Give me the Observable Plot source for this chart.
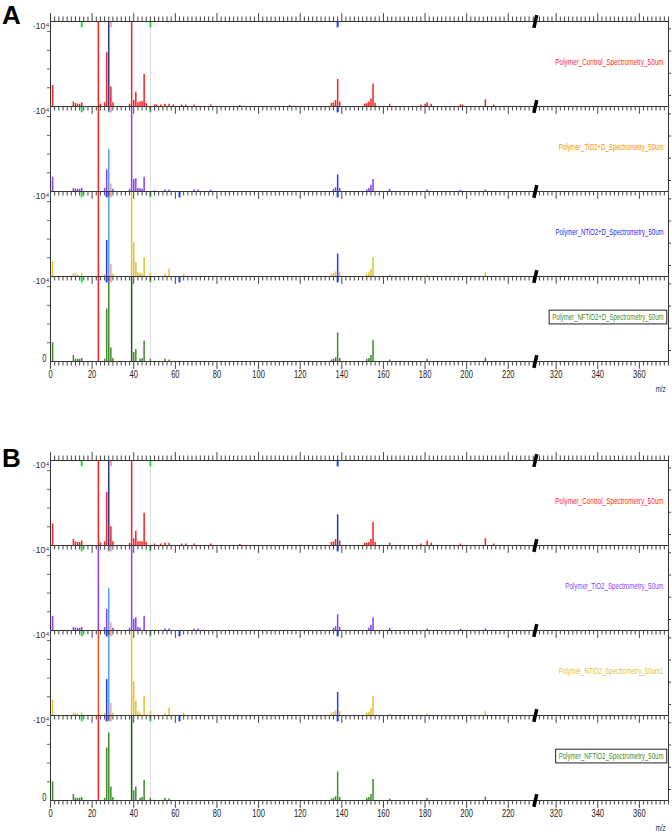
<!DOCTYPE html>
<html><head><meta charset="utf-8">
<script src="https://cdn.jsdelivr.net/npm/d3@7"></script>
<script src="https://cdn.jsdelivr.net/npm/@observablehq/plot@0.6"></script>
<style>
body{margin:0;background:#fff;}
#wrap{position:relative;width:672px;height:834px;overflow:hidden;background:#fff;}
.letter{position:absolute;font-family:"Liberation Sans",Arial,sans-serif;font-weight:bold;font-size:26px;line-height:1;color:#000;}
#figA{position:absolute;left:0;top:0;}
#figB{position:absolute;left:0;top:400px;}
</style></head><body>
<div id="wrap">
  <div id="figA"></div>
  <div id="figB"></div>
  <div class="letter" style="left:2px;top:2px">A</div>
  <div class="letter" style="left:2px;top:445px">B</div>
</div>
<script>
// ---------- axis definitions ----------
const breakLo = 233;          // last m/z of the left segment
const breakGap = 77;          // m/z hidden by the axis break
const xMaxPos = 297;          // right end of the axis (transformed units)
const yTop = 1.135;           // panel top, ×10^4 counts
const majorTicks = [0,20,40,60,80,100,120,140,160,180,200,220,320,340,360];
const leftYTicks = [0.25,0.5,0.75,1];
const rightYTicks = [0.147,0.444,0.741,1.037];
const refLines = [48];

// ---------- series ----------
const seriesA = ["Polymer_Control_Spectrometry_50um","Polymer_TiO2+D_Spectrometry_50um","Polymer_NTiO2+D_Spectrometry_50um","Polymer_NFTiO2+D_Spectrometry_50um"];
const seriesB = ["Polymer_Control_Spectrometry_50um","Polymer_TiO2_Spectrometry_50um","Polymer_NTiO2_Spectrometry_50um1","Polymer_NFTiO2_Spectrometry_50um"];
const lineColors = ["#ff1f1f","#8b3cff","#e6bf2e","#3f8a2c"];
const labelColorsA = ["#ff1f1f","#ff8c00","#2424ff","#3f8a2c"];
const labelColorsB = ["#ff1f1f","#8b3cff","#e6bf2e","#3f8a2c"];
const palette = {rd:"#ff2020", or:"#ff4a1a", nv:"#1f3a9c", lb:"#4aa3ff", bl:"#2638ff", pk:"#ff9c9c", g:"#1ee04a", dg:"#1d5c12"};

// ---------- spectra: [m/z, intensity ×10^4, optional colour key] ----------
const specA1 = [[1,0.28],[11,0.06],[12,0.04],[13,0.03],[14,0.03],[15,0.05],[23,2,"rd"],[24,0.03],[26,0.05],[27,0.72],[28,2,"nv"],[29,0.26],[30,0.05],[38,0.03],[39,2],[40,0.08],[41,0.19],[42,0.05],[43,0.06],[44,0.07],[45,0.43],[46,0.04],[50,0.02],[51,0.02],[53,0.02],[55,0.03],[57,0.03],[59,0.02],[63,0.02],[65,0.02],[69,0.02],[77,0.02],[91,0.015],[115,0.015],[135,0.04],[136,0.05],[137,0.08],[138,0.36],[139,0.06],[151,0.03],[152,0.04],[153,0.06],[154,0.1],[155,0.3],[156,0.04],[163,0.03],[178,0.02],[180,0.03],[181,0.05],[183,0.03],[197,0.02],[198,0.02],[209,0.09],[213,0.02]];
const specA2 = [[1,0.19],[11,0.04],[12,0.03],[13,0.03],[14,0.03],[15,0.04],[23,2,"rd"],[26,0.04],[27,0.29],[28,0.56,"lb"],[29,0.1,"pk"],[30,0.03],[38,0.03],[39,2],[40,0.16],[41,0.17],[42,0.04],[43,0.04],[44,0.03],[45,0.19],[50,0.01],[55,0.02],[57,0.02],[69,0.02],[71,0.02],[77,0.015],[136,0.03],[137,0.05],[138,0.22,"bl"],[139,0.04],[152,0.02],[153,0.04],[154,0.08],[155,0.16],[163,0.03],[181,0.02],[197,0.015],[209,0.02]];
const specA3 = [[1,0.2],[11,0.04],[12,0.03],[13,0.02],[15,0.04],[23,2,"rd"],[26,0.03],[27,0.48,"bl"],[28,2,"lb"],[29,0.16,"pk"],[30,0.03],[39,2],[40,0.45],[41,0.19],[42,0.05],[43,0.04],[44,0.03],[45,0.25],[48,0.04],[55,0.03],[57,0.1],[64,0.03],[135,0.03],[136,0.04],[137,0.06],[138,0.3,"bl"],[139,0.05],[152,0.03],[153,0.05],[154,0.09],[155,0.25],[163,0.02],[181,0.02],[209,0.05]];
const specA4 = [[1,0.25],[11,0.08],[12,0.03],[13,0.03],[14,0.03],[15,0.04],[23,2,"rd"],[26,0.03],[27,0.7],[28,2],[29,0.18],[30,0.04],[39,2,"dg"],[40,0.12],[41,0.16],[43,0.03],[44,0.04],[45,0.27],[48,0.03],[55,0.03],[57,0.02],[135,0.02],[136,0.03],[137,0.05],[138,0.38],[139,0.04],[152,0.03],[153,0.04],[154,0.08],[155,0.28],[163,0.02],[181,0.03],[209,0.045]];
const specB1 = [[1,0.29],[11,0.08],[12,0.05],[13,0.04],[14,0.04],[15,0.06],[23,2,"rd"],[24,0.03],[26,0.05],[27,0.71],[28,2,"nv"],[29,0.25],[30,0.05],[38,0.03],[39,2],[40,0.09],[41,0.19],[42,0.05],[43,0.05],[44,0.05],[45,0.43],[46,0.04],[50,0.02],[53,0.02],[55,0.03],[57,0.03],[63,0.02],[65,0.02],[69,0.02],[77,0.02],[91,0.015],[135,0.04],[136,0.05],[137,0.08],[138,0.41,"nv"],[139,0.06],[151,0.03],[152,0.03],[153,0.04],[154,0.08],[155,0.31],[156,0.04],[163,0.03],[178,0.02],[181,0.06],[183,0.03],[197,0.02],[209,0.09],[213,0.02]];
const specB2 = [[1,0.19],[11,0.04],[12,0.03],[13,0.03],[14,0.03],[15,0.04],[23,2],[26,0.04],[27,0.28],[28,0.56,"lb"],[29,0.1,"pk"],[30,0.03],[38,0.03],[39,2],[40,0.15],[41,0.17],[42,0.04],[43,0.03],[45,0.19],[55,0.02],[57,0.02],[69,0.02],[71,0.02],[136,0.03],[137,0.05],[138,0.21],[139,0.04],[153,0.03],[154,0.07],[155,0.17],[163,0.03],[181,0.02],[197,0.015],[209,0.02]];
const specB3 = [[1,0.2],[11,0.03],[12,0.03],[13,0.02],[15,0.03],[23,2,"or"],[26,0.03],[27,0.48,"bl"],[28,2,"lb"],[29,0.16,"pk"],[30,0.03],[39,2],[40,0.45],[41,0.19],[42,0.05],[43,0.03],[45,0.25],[48,0.05],[55,0.03],[57,0.1],[64,0.03],[135,0.03],[136,0.04],[137,0.06],[138,0.31,"bl"],[139,0.05],[152,0.03],[153,0.04],[154,0.09],[155,0.25],[163,0.02],[181,0.02],[209,0.05]];
const specB4 = [[1,0.25],[11,0.08],[12,0.03],[13,0.03],[14,0.03],[15,0.04],[23,2,"rd"],[26,0.03],[27,0.7],[28,0.9],[29,0.18],[30,0.04],[39,2,"dg"],[40,0.13],[41,0.18],[43,0.03],[44,0.04],[45,0.27],[48,0.03],[55,0.03],[57,0.02],[135,0.02],[136,0.03],[137,0.05],[138,0.38],[139,0.04],[152,0.03],[153,0.04],[154,0.08],[155,0.28],[163,0.02],[181,0.03],[209,0.045]];

// ---------- peak-ID markers at panel tops: [m/z, colour key] ----------
const marksP1 = [[15,"g"],[29,"pk"],[48,"g"],[138,"bl"]];
const marksP2 = [[15,"g"],[28,"lb"],[29,"pk"],[48,"g"],[138,"bl"]];
const marksP3 = [[15,"g"],[27,"bl"],[28,"lb"],[29,"pk"],[48,"g"],[62,"bl"],[138,"bl"]];
const marksP4 = [[15,"g"],[27,"bl"],[28,"lb"],[29,"pk"],[48,"g"],[62,"bl"],[138,"bl"]];

// ---------- helpers ----------
const pos = mz => mz <= breakLo ? mz : mz - breakGap;
const minorTicks = [];
for (let m = 0; m <= 232; m += 2) if (!majorTicks.includes(m)) minorTicks.push(m);
for (let m = 312; m <= 374; m += 2) if (!majorTicks.includes(m)) minorTicks.push(m);
const FONT = '"Liberation Sans",Arial,sans-serif';

function buildFigure(series, specs, labelColors, height, marginTop, marginBottom) {
  const rows = [];
  specs.forEach((s, i) => s.forEach(([mz, h, c]) => rows.push({series: series[i], mz, h, color: c ? palette[c] : lineColors[i]})));
  const markerRows = [];
  [marksP1, marksP2, marksP3, marksP4].forEach((m, i) => m.forEach(([mz, c]) => markerRows.push({series: series[i], mz, color: palette[c]})));
  const first = series[0], last = series[series.length - 1];
  return Plot.plot({
    width: 672, height, marginTop, marginBottom, marginLeft: 50, marginRight: 4,
    style: {fontFamily: FONT, background: "white", overflow: "visible"},
    x: {domain: [0, xMaxPos], axis: null},
    y: {domain: [0, yTop], axis: null},
    fy: {domain: series, padding: 0, axis: null},
    marks: [
      Plot.ruleX(refLines, {x: pos, y1: 0, y2: yTop, stroke: "#dcdcdc", strokeWidth: 1}),
      Plot.ruleX(rows, {x: d => pos(d.mz), y1: 0, y2: d => d.h, stroke: d => d.color, fy: d => d.series, strokeWidth: 1.5, clip: true}),
      Plot.ruleX(markerRows, {x: d => pos(d.mz), y1: yTop, y2: yTop - 0.085, stroke: d => d.color, fy: d => d.series, strokeWidth: 2}),
      Plot.frame({stroke: "#333", strokeWidth: 1}),
      // x ticks below each baseline
      Plot.ruleX(minorTicks, {x: pos, y1: 0, y2: -0.06, stroke: "#444"}),
      Plot.ruleX(majorTicks, {x: pos, y1: 0, y2: -0.105, stroke: "#444"}),
      // x ticks above the top panel
      Plot.ruleX(minorTicks, {x: pos, y1: yTop, y2: yTop + 0.06, stroke: "#444", fy: () => first}),
      Plot.ruleX(majorTicks, {x: pos, y1: yTop, y2: yTop + 0.105, stroke: "#444", fy: () => first}),
      // y ticks left / right
      Plot.ruleY(leftYTicks, {y: d => d, x1: -1.5, x2: 0, stroke: "#666"}),
      Plot.ruleY(rightYTicks, {y: d => d, x1: xMaxPos, x2: xMaxPos + 1.5, stroke: "#444"}),
      // axis break marks
      Plot.link([breakLo], {x1: d => d - 0.7, x2: d => d + 0.7, y1: -0.085, y2: 0.085, stroke: "#000", strokeWidth: 3.5}),
      Plot.link([breakLo], {x1: d => d - 0.7, x2: d => d + 0.7, y1: yTop - 0.085, y2: yTop + 0.085, stroke: "#000", strokeWidth: 3.5, fy: () => first}),
      // panel labels
      Plot.text(series, {fy: d => d, text: d => d, fill: (d, i) => labelColors[i], frameAnchor: "right", dx: -5, dy: -2, fontSize: 9.5, textAnchor: "end"}),
      Plot.text(series, {fy: d => d, text: () => "·10⁴", frameAnchor: "top-left", dx: -18, dy: 1, fontSize: 9, fill: "#333", textAnchor: "start"}),
      // bottom axis labels
      Plot.text(majorTicks, {x: pos, text: d => String(d), fy: () => last, frameAnchor: "bottom", dy: 16, fontSize: 11, fill: "#222"}),
      Plot.text(["0"], {fy: () => last, frameAnchor: "bottom-left", dx: -4, textAnchor: "end", fontSize: 11, fill: "#222"}),
      Plot.text(["m/z"], {fy: () => last, frameAnchor: "bottom-right", dx: -3, dy: 30, textAnchor: "end", fontSize: 9.5, fill: "#222"})
    ]
  });
}

// narrow-font look: squeeze text horizontally around its anchor
function condense(svg) {
  d3.select(svg).selectAll("text").each(function () {
    const fs = parseFloat(getComputedStyle(this).fontSize);
    const n = this.textContent.length;
    let per = null;
    if (fs > 10.5) per = 4.2;          // tick labels
    else if (fs > 9.2) per = 3.28;     // panel labels, m/z
    if (!per) return;
    const w = this.getComputedTextLength();
    const target = n * per;
    if (w <= target) return;
    const s = target / w;
    let t = this.getAttribute("transform");
    if (!t) {
      const x = +this.getAttribute("x") || 0, y = +this.getAttribute("y") || 0;
      this.removeAttribute("x"); this.removeAttribute("y");
      t = `translate(${x},${y})`;
    }
    this.__origT = t; this.__s = s;
    this.setAttribute("transform", `${t} scale(${s.toFixed(4)},1)`);
  });
}

function boxLabel(svg, label) {
  d3.select(svg).selectAll("text").filter(function () { return this.textContent === label; }).each(function () {
    const b = this.getBBox();
    const s = this.__s || 1;
    const r = document.createElementNS("http://www.w3.org/2000/svg", "rect");
    r.setAttribute("x", b.x * s - 3); r.setAttribute("y", b.y - 1.5);
    r.setAttribute("width", b.width * s + 6); r.setAttribute("height", b.height + 3);
    r.setAttribute("fill", "white"); r.setAttribute("stroke", "#222"); r.setAttribute("stroke-width", "1");
    const t = this.__origT || this.getAttribute("transform");
    if (t) r.setAttribute("transform", t);
    this.parentNode.insertBefore(r, this);
  });
}

const figA = buildFigure(seriesA, [specA1, specA2, specA3, specA4], labelColorsA, 400, 21, 39);
document.getElementById("figA").appendChild(figA);
condense(figA);
boxLabel(figA, seriesA[3]);
const figB = buildFigure(seriesB, [specB1, specB2, specB3, specB4], labelColorsB, 434, 60, 34);
document.getElementById("figB").appendChild(figB);
condense(figB);
boxLabel(figB, seriesB[3]);
</script>
</body></html>
